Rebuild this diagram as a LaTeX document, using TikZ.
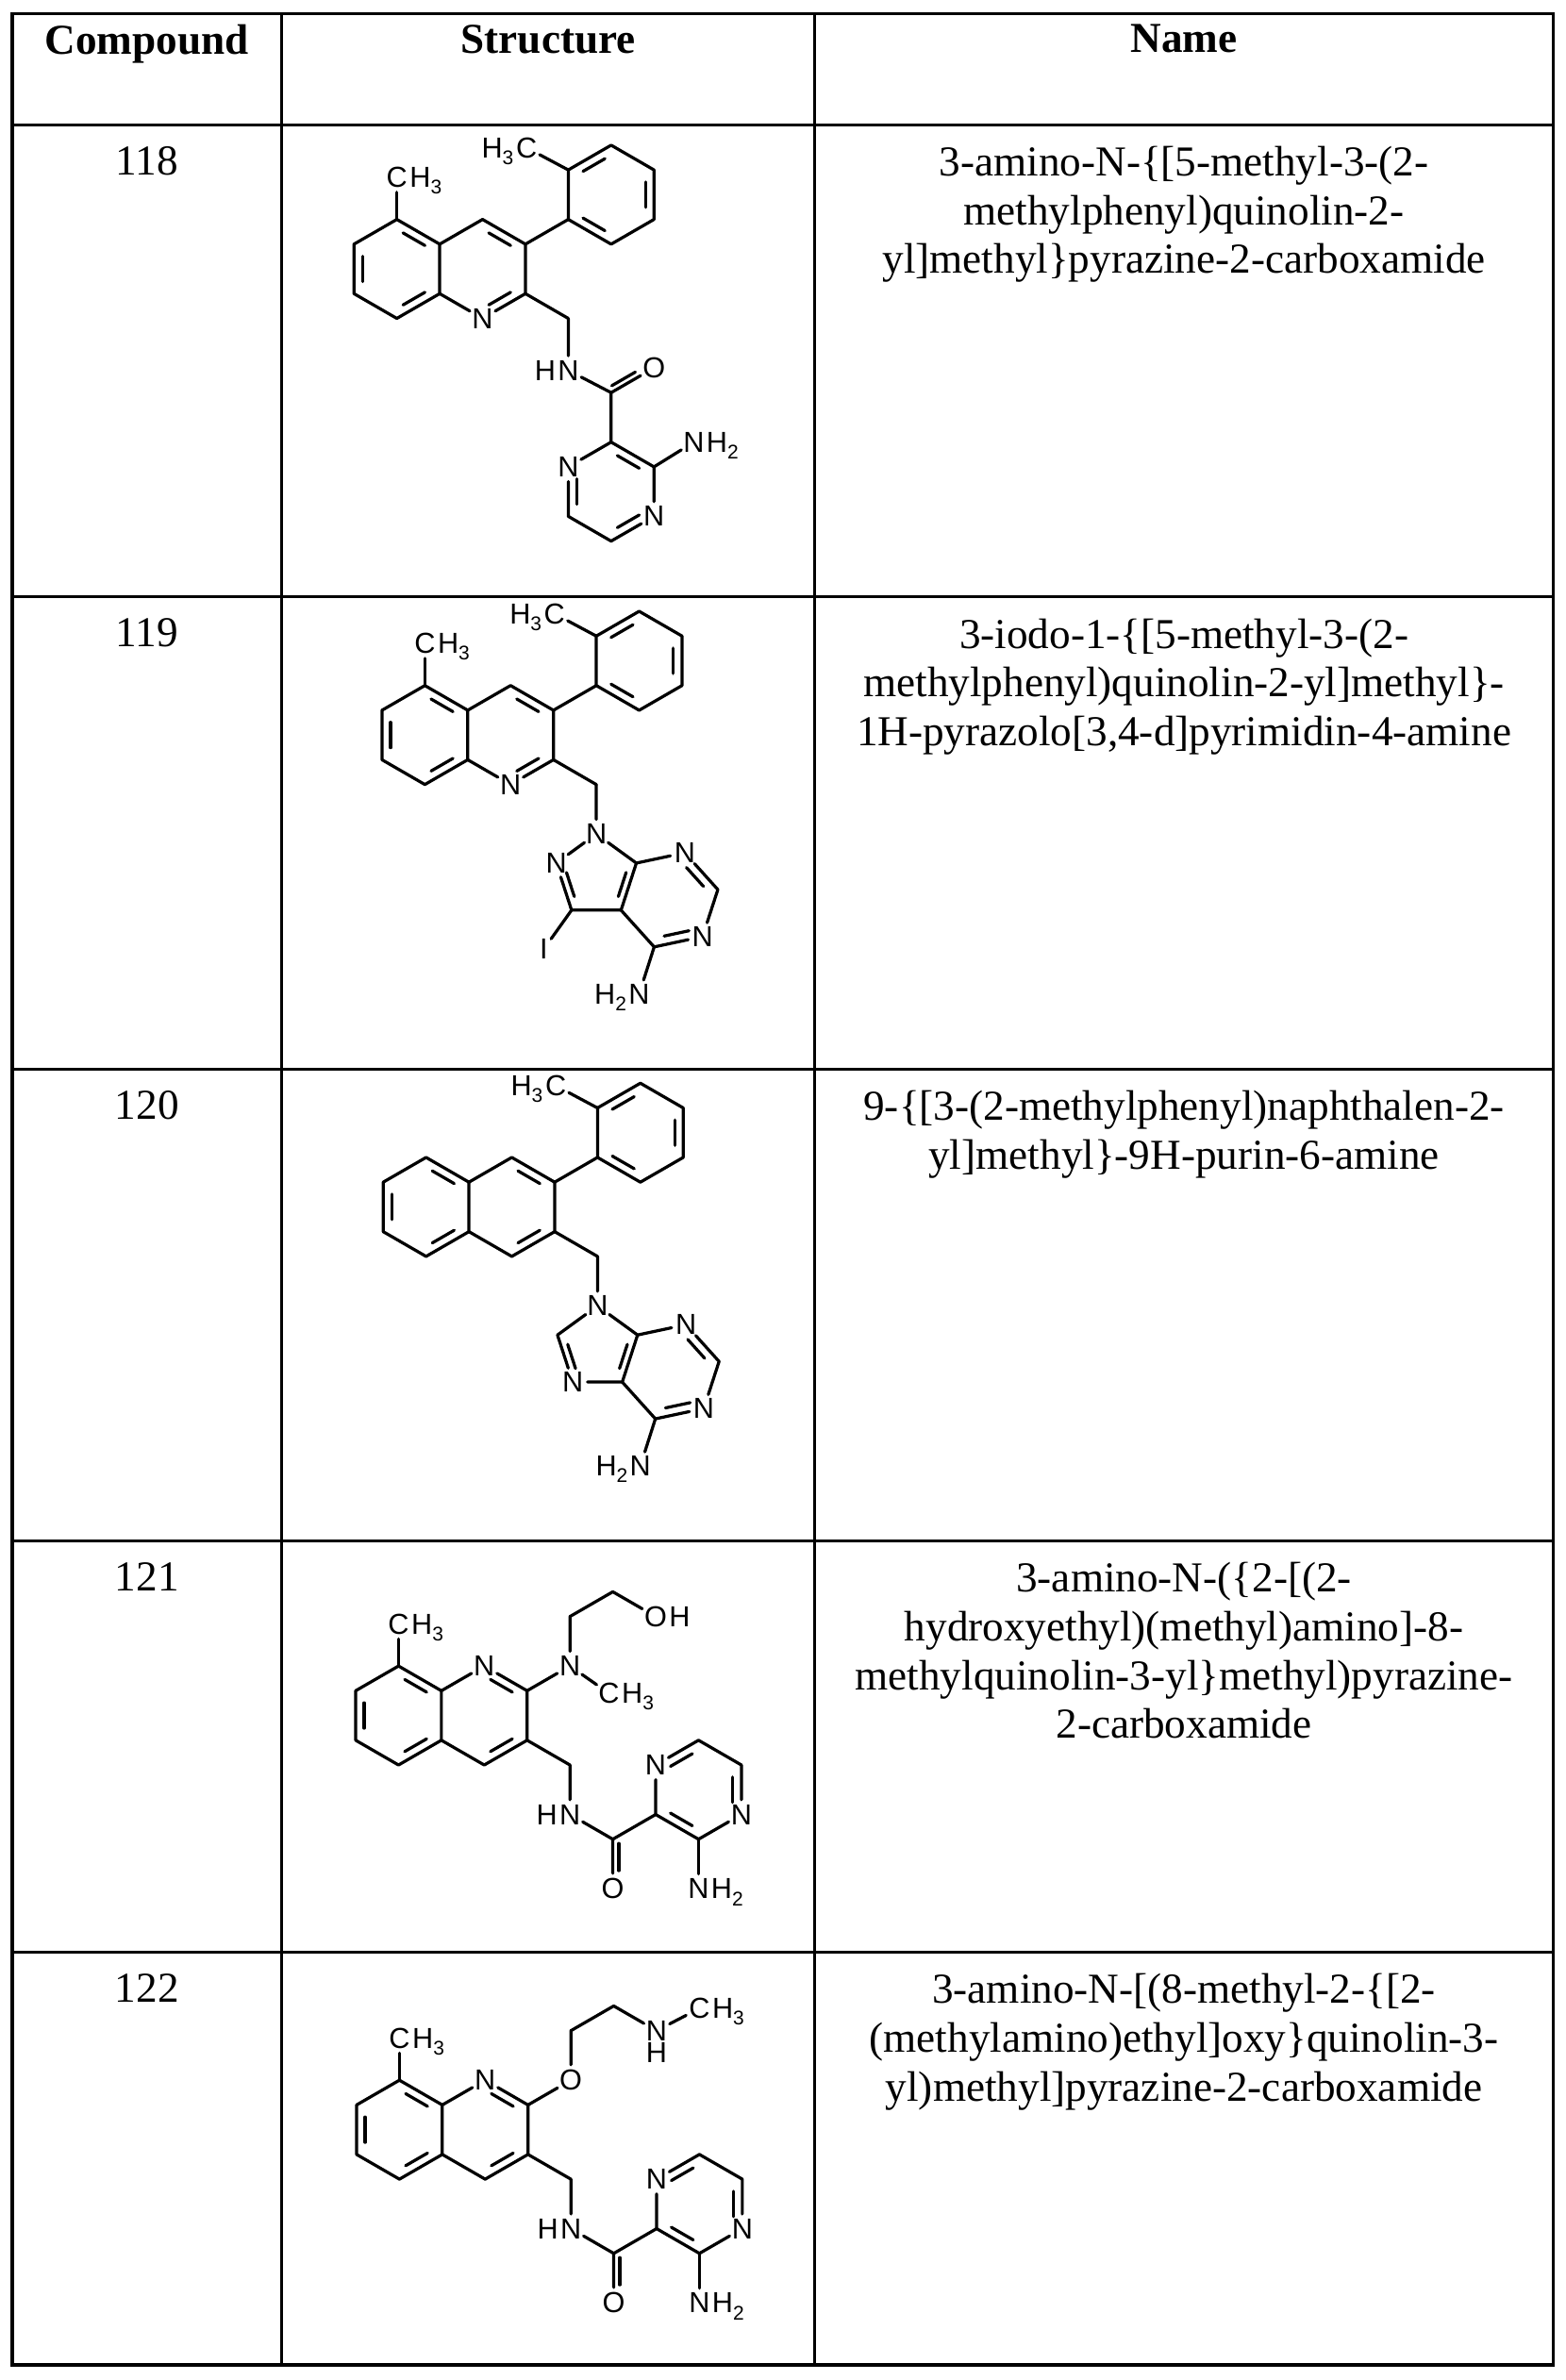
\documentclass[tikz,border=0pt]{standalone}
\usepackage{fontspec}
\setmainfont{Liberation Serif}
\newfontfamily\chemf{Liberation Sans}
\usetikzlibrary{calc}
\newcommand\cf{\chemf\fontsize{19}{19}\selectfont}
\newcommand\sbs[1]{\raisebox{-4.5pt}[0pt][0pt]{\fontsize{13}{13}\selectfont #1}}
\tikzset{
 bnd/.style={line width=2pt,line cap=round,line join=round},
 atm/.style={circle,inner sep=0pt,minimum size=16.5pt,font=\cf},
 lbl/.style={inner sep=0pt,font=\cf},
 tline/.style={line width=2pt},
 txt/.style={font=\fontsize{28}{32}\selectfont,align=center,inner sep=0pt,anchor=north},
 hdr/.style={font=\fontsize{28}{32}\selectfont\bfseries,inner sep=0pt,anchor=north}
}
\newcommand\inb[4][0.2]{\draw[bnd] ($(#2)!0.18!(#3)!#1!(#4)$) -- ($(#3)!0.18!(#2)!#1!(#4)$);}
\newcommand\hE[2]{\node[lbl,anchor=west] (#1h) at ([xshift=-1.5pt]#1.east) {#2};}
\newcommand\hW[2]{\node[lbl,anchor=east] (#1h) at ([xshift=1.5pt]#1.west) {#2};}
% quinoline 5-methyl 3-tolyl
\newcommand\qtol[1]{%
 \coordinate (#1Lc) at (0,0); \coordinate (#1Rc) at (1.732,0); \coordinate (#1Pc) at (4.33,-1.5);
 \coordinate (#1c5) at (0,-1); \coordinate (#1c4a) at (.866,-.5); \coordinate (#1c8a) at (.866,.5);
 \coordinate (#1c8) at (0,1); \coordinate (#1c7) at (-.866,.5); \coordinate (#1c6) at (-.866,-.5);
 \coordinate (#1c4) at (1.732,-1); \coordinate (#1c3) at (2.598,-.5); \coordinate (#1c2) at (2.598,.5);
 \node[atm] (#1n1) at (1.732,1) {N};
 \node[atm] (#1me5) at (0,-1.85) {C}; \hE{#1me5}{H\sbs{3}}
 \coordinate (#1p1) at (3.464,-1); \coordinate (#1p2) at (3.464,-2); \coordinate (#1p3) at (4.33,-2.5);
 \coordinate (#1p4) at (5.196,-2); \coordinate (#1p5) at (5.196,-1); \coordinate (#1p6) at (4.33,-.5);
 \node[atm] (#1mep) at (2.62,-2.45) {C}; \hW{#1mep}{H\sbs{3}}
 \coordinate (#1ch2) at (3.464,1);
 \draw[bnd] (#1c5)--(#1c4a)--(#1c8a)--(#1c8)--(#1c7)--(#1c6)--cycle;
 \draw[bnd] (#1c4a)--(#1c4)--(#1c3)--(#1c2)--(#1n1)--(#1c8a);
 \draw[bnd] (#1c5)--(#1me5); \draw[bnd] (#1c3)--(#1p1);
 \draw[bnd] (#1p1)--(#1p2)--(#1p3)--(#1p4)--(#1p5)--(#1p6)--cycle;
 \draw[bnd] (#1p2)--(#1mep); \draw[bnd] (#1c2)--(#1ch2);
 \inb{#1c5}{#1c4a}{#1Lc}\inb{#1c8a}{#1c8}{#1Lc}\inb{#1c7}{#1c6}{#1Lc}
 \inb{#1c4}{#1c3}{#1Rc}\inb{#1c2}{#1n1}{#1Rc}
 \inb{#1p2}{#1p3}{#1Pc}\inb{#1p4}{#1p5}{#1Pc}\inb{#1p6}{#1p1}{#1Pc}
}
% quinoline 8-methyl with 3-CH2-amide-pyrazine
\newcommand\qam[1]{%
 \coordinate (#1Lc) at (0,0); \coordinate (#1Rc) at (1.732,0); \coordinate (#1Zc) at (6.062,1.5);
 \coordinate (#1c8) at (0,-1); \coordinate (#1c8a) at (.866,-.5); \coordinate (#1c4a) at (.866,.5);
 \coordinate (#1c5) at (0,1); \coordinate (#1c6) at (-.866,.5); \coordinate (#1c7) at (-.866,-.5);
 \node[atm] (#1n1) at (1.732,-1) {N};
 \coordinate (#1c2) at (2.598,-.5); \coordinate (#1c3) at (2.598,.5); \coordinate (#1c4) at (1.732,1);
 \node[atm] (#1me8) at (0,-1.85) {C}; \hE{#1me8}{H\sbs{3}}
 \coordinate (#1ch2) at (3.464,1);
 \node[atm] (#1nh) at (3.464,2) {N}; \hW{#1nh}{H}
 \coordinate (#1cc) at (4.33,2.5);
 \node[atm] (#1oo) at (4.33,3.5) {O};
 \coordinate (#1z2) at (5.196,2); \node[atm] (#1zn1) at (5.196,1) {N};
 \coordinate (#1z6) at (6.062,.5); \coordinate (#1z5) at (6.928,1);
 \node[atm] (#1zn4) at (6.928,2) {N}; \coordinate (#1z3) at (6.062,2.5);
 \node[atm] (#1nh2) at (6.062,3.5) {N}; \hE{#1nh2}{H\sbs{2}}
 \draw[bnd] (#1c8)--(#1c8a)--(#1c4a)--(#1c5)--(#1c6)--(#1c7)--cycle;
 \draw[bnd] (#1c8a)--(#1n1)--(#1c2)--(#1c3)--(#1c4)--(#1c4a);
 \draw[bnd] (#1c8)--(#1me8);
 \draw[bnd] (#1c3)--(#1ch2)--(#1nh)--(#1cc)--(#1oo);
 \draw[bnd] (#1cc)--(#1z2)--(#1zn1)--(#1z6)--(#1z5)--(#1zn4)--(#1z3)--(#1z2);
 \draw[bnd] (#1z3)--(#1nh2);
 \inb{#1c8}{#1c8a}{#1Lc}\inb{#1c6}{#1c7}{#1Lc}\inb{#1c5}{#1c4a}{#1Lc}
 \inb{#1n1}{#1c2}{#1Rc}\inb{#1c3}{#1c4}{#1Rc}
 \inb{#1zn1}{#1z6}{#1Zc}\inb{#1z5}{#1zn4}{#1Zc}\inb{#1z2}{#1z3}{#1Zc}
 \inb[0.14]{#1cc}{#1oo}{#1z2}
}
\begin{document}
\begin{tikzpicture}[x=1pt,y=-1pt]
\useasboundingbox[fill=white] (0,0) rectangle (1028,1563);
% table
\draw[line width=2.4pt] (8,9) rectangle (1020,1553);
\foreach \yy in {82,392,702,1012,1282} \draw[tline] (8,\yy) -- (1020,\yy);
\draw[tline] (185,9) -- (185,1553);
\draw[tline] (535,9) -- (535,1553);
\node[hdr] (h1) at (96.5,16) {Compound};
\node[hdr] (h2) at (360,16) {Structure};
\node[hdr] (h3) at (777.5,16) {Name};
\node[txt] (k1) at (96.5,96) {118};
\node[txt] (k2) at (96.5,406) {119};
\node[txt] (k3) at (96.5,716) {120};
\node[txt] (k4) at (96.5,1026) {121};
\node[txt] (k5) at (96.5,1296) {122};
\node[txt] (m1) at (777.5,96) {3-amino-N-\{[5-methyl-3-(2-\\methylphenyl)quinolin-2-\\yl]methyl\}pyrazine-2-carboxamide};
\node[txt] (m2) at (777.5,406) {3-iodo-1-\{[5-methyl-3-(2-\\methylphenyl)quinolin-2-yl]methyl\}-\\1H-pyrazolo[3,4-d]pyrimidin-4-amine};
\node[txt] (m3) at (777.5,716) {9-\{[3-(2-methylphenyl)naphthalen-2-\\yl]methyl\}-9H-purin-6-amine};
\node[txt] (m4) at (777.5,1026) {3-amino-N-(\{2-[(2-\\hydroxyethyl)(methyl)amino]-8-\\methylquinolin-3-yl\}methyl)pyrazine-\\2-carboxamide};
\node[txt] (m5) at (777.5,1296) {3-amino-N-[(8-methyl-2-\{[2-\\(methylamino)ethyl]oxy\}quinolin-3-\\yl)methyl]pyrazine-2-carboxamide};
% 118
\begin{scope}[shift={(260.6,176.6)},x=32.5pt,y=-32.5pt]
 \qtol{a}
 \node[atm] (anh) at (3.464,2.05) {N}; \hW{anh}{H}
 \coordinate (acc) at (4.33,2.5);
 \node[atm] (aoo) at (5.196,2) {O};
 \coordinate (aZc) at (4.33,4.5);
 \coordinate (az2) at (4.33,3.5); \coordinate (az3) at (5.196,4);
 \node[atm] (azn4) at (5.196,5) {N}; \coordinate (az5) at (4.33,5.5);
 \coordinate (az6) at (3.464,5); \node[atm] (azn1) at (3.464,4) {N};
 \node[atm] (anh2) at (6.0,3.5) {N}; \hE{anh2}{H\sbs{2}}
 \draw[bnd] (ach2)--(anh)--(acc)--(aoo);
 \draw[bnd] (acc)--(az2)--(az3)--(azn4)--(az5)--(az6)--(azn1)--(az2);
 \draw[bnd] (az3)--(anh2);
 \inb[0.14]{acc}{aoo}{anh}
 \inb{az2}{az3}{aZc}\inb{azn4}{az5}{aZc}\inb{az6}{azn1}{aZc}
\end{scope}
% 119
\begin{scope}[shift={(279,482.7)},x=32.5pt,y=-32.5pt]
 \qtol{b}
 \node[atm] (bn1x) at (3.464,2) {N};
 \node[atm] (bn2) at (2.655,2.588) {N};
 \coordinate (bc3) at (2.964,3.539); \coordinate (bc3a) at (3.964,3.539); \coordinate (bc7a) at (4.273,2.588);
 \coordinate (bFc) at (3.464,2.851); \coordinate (bHc) at (4.942,3.331);
 \node[atm] (bn7) at (5.251,2.38) {N}; \coordinate (bc6) at (5.92,3.123);
 \node[atm] (bn5) at (5.611,4.074) {N}; \coordinate (bc4) at (4.633,4.282);
 \node[atm] (bnh2) at (4.33,5.233) {N}; \hW{bnh2}{H\sbs{2}}
 \node[atm] (bio) at (2.40,4.33) {I};
 \draw[bnd] (bch2)--(bn1x)--(bn2)--(bc3)--(bc3a)--(bc7a)--(bn1x);
 \draw[bnd] (bc7a)--(bn7)--(bc6)--(bn5)--(bc4)--(bc3a);
 \draw[bnd] (bc4)--(bnh2); \draw[bnd] (bc3)--(bio);
 \inb{bn2}{bc3}{bFc}\inb{bc7a}{bc3a}{bFc}\inb{bn7}{bc6}{bHc}\inb{bn5}{bc4}{bHc}
\end{scope}
% 120
\begin{scope}[shift={(279.8,792.6)},x=32.5pt,y=-32.5pt]
 \coordinate (cLc) at (0,0); \coordinate (cRc) at (1.732,0); \coordinate (cPc) at (4.33,-1.5);
 \coordinate (cl1) at (0,-1); \coordinate (cl2) at (.866,-.5); \coordinate (cl3) at (.866,.5);
 \coordinate (cl4) at (0,1); \coordinate (cl5) at (-.866,.5); \coordinate (cl6) at (-.866,-.5);
 \coordinate (cr1) at (1.732,-1); \coordinate (cr2) at (2.598,-.5); \coordinate (cr3) at (2.598,.5); \coordinate (cr4) at (1.732,1);
 \coordinate (cp1) at (3.464,-1); \coordinate (cp2) at (3.464,-2); \coordinate (cp3) at (4.33,-2.5);
 \coordinate (cp4) at (5.196,-2); \coordinate (cp5) at (5.196,-1); \coordinate (cp6) at (4.33,-.5);
 \node[atm] (cmep) at (2.62,-2.45) {C}; \hW{cmep}{H\sbs{3}}
 \coordinate (cch2) at (3.464,1);
 \node[atm] (cn9) at (3.464,2) {N};
 \coordinate (cc8) at (2.655,2.588); \node[atm] (cn7) at (2.964,3.539) {N};
 \coordinate (cc5) at (3.964,3.539); \coordinate (cc4) at (4.273,2.588);
 \coordinate (cFc) at (3.464,2.851); \coordinate (cHc) at (4.942,3.331);
 \node[atm] (cn3) at (5.251,2.38) {N}; \coordinate (cc2) at (5.92,3.123);
 \node[atm] (cn1) at (5.611,4.074) {N}; \coordinate (cc6) at (4.633,4.282);
 \node[atm] (cnh2) at (4.33,5.233) {N}; \hW{cnh2}{H\sbs{2}}
 \draw[bnd] (cl1)--(cl2)--(cl3)--(cl4)--(cl5)--(cl6)--cycle;
 \draw[bnd] (cl2)--(cr1)--(cr2)--(cr3)--(cr4)--(cl3);
 \draw[bnd] (cr2)--(cp1); \draw[bnd] (cp1)--(cp2)--(cp3)--(cp4)--(cp5)--(cp6)--cycle;
 \draw[bnd] (cp2)--(cmep); \draw[bnd] (cr3)--(cch2)--(cn9);
 \draw[bnd] (cn9)--(cc8)--(cn7)--(cc5)--(cc4)--(cn9);
 \draw[bnd] (cc4)--(cn3)--(cc2)--(cn1)--(cc6)--(cc5);
 \draw[bnd] (cc6)--(cnh2);
 \inb{cl1}{cl2}{cLc}\inb{cl5}{cl6}{cLc}\inb{cl4}{cl3}{cLc}
 \inb{cr1}{cr2}{cRc}\inb{cr3}{cr4}{cRc}
 \inb{cp2}{cp3}{cPc}\inb{cp4}{cp5}{cPc}\inb{cp6}{cp1}{cPc}
 \inb{cc8}{cn7}{cFc}\inb{cc4}{cc5}{cFc}\inb{cn3}{cc2}{cHc}\inb{cn1}{cc6}{cHc}
\end{scope}
% 121
\begin{scope}[shift={(261.7,1126.6)},x=32.5pt,y=-32.5pt]
 \qam{d}
 \node[atm] (dna) at (3.464,-1) {N};
 \node[atm] (dme) at (4.25,-0.45) {C}; \hE{dme}{H\sbs{3}}
 \coordinate (de1) at (3.464,-2); \coordinate (de2) at (4.33,-2.5);
 \node[atm] (doh) at (5.196,-2) {O}; \hE{doh}{H}
 \draw[bnd] (dc2)--(dna)--(dme); \draw[bnd] (dna)--(de1)--(de2)--(doh);
\end{scope}
% 122
\begin{scope}[shift={(262.3,1398.6)},x=32.5pt,y=-32.5pt]
 \qam{e}
 \node[atm] (eox) at (3.464,-1) {O};
 \coordinate (ee1) at (3.464,-2); \coordinate (ee2) at (4.33,-2.5);
 \node[atm] (enm) at (5.196,-2) {N};
 \node[lbl,anchor=north] (enmh) at ([yshift=2pt]enm.south) {H};
 \node[atm] (eme) at (6.06,-2.45) {C}; \hE{eme}{H\sbs{3}}
 \draw[bnd] (ec2)--(eox)--(ee1)--(ee2)--(enm)--(eme);
\end{scope}
\end{tikzpicture}
\end{document}
